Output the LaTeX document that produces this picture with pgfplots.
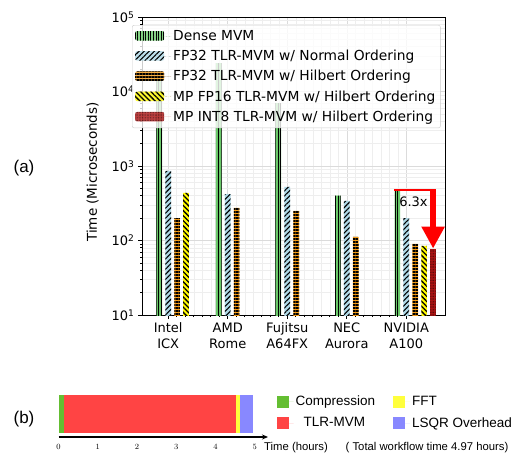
\documentclass[border=0pt]{standalone}
\usepackage{pgfplots}
\pgfplotsset{compat=1.18}
\usepackage{fontspec}
\setmainfont{DejaVu Sans}
\newfontfamily\arialf{Liberation Sans}
\usetikzlibrary{patterns.meta,arrows.meta}

\definecolor{cdense}{RGB}{105,200,105}
\definecolor{cnormal}{RGB}{173,216,230}
\definecolor{chilbert}{RGB}{245,155,20}
\definecolor{cfp16}{RGB}{255,250,0}
\definecolor{cint8}{RGB}{175,20,20}
\definecolor{bgreen}{RGB}{100,190,50}
\definecolor{bred}{RGB}{255,68,68}
\definecolor{byellow}{RGB}{255,255,60}
\definecolor{bblue}{RGB}{136,136,255}

\pgfplotsset{
  barleg/.style={legend image code/.code={\fill[##1] (0pt,-4.5pt) rectangle (29pt,5pt);\path (0pt,0pt) -- (36pt,0pt);}},
  sqleg/.style={legend image code/.code={\fill[##1] (0pt,-6pt) rectangle (12pt,6pt);\path (0pt,0pt) -- (17pt,0pt);}},
}

\begin{document}
\begin{tikzpicture}[x=1pt,y=1pt]
\path[use as bounding box] (0,0) rectangle (520,-455);

\begin{axis}[
  at={(142pt,-315pt)}, anchor=south west,
  width=303pt, height=298pt, scale only axis,
  ymode=log, ymin=10, ymax=100000,
  xmin=-0.44, xmax=4.65,
  ybar, bar width=0.095,
  xtick={0,1,2,3,4},
  xticklabels={{Intel\\ICX},{AMD\\Rome},{Fujitsu\\A64FX},{NEC\\Aurora},{NVIDIA\\A100}},
  xticklabel style={align=center, font=\fontsize{13}{16.5}\selectfont},
  minor x tick num=6,
  ytick={10,100,1000,10000,100000},
  yticklabels={10\textsuperscript{1},10\textsuperscript{2},10\textsuperscript{3},10\textsuperscript{4},10\textsuperscript{5}},
  minor ytick={20,30,40,50,60,70,80,90,200,300,400,500,600,700,800,900,2000,3000,4000,5000,6000,7000,8000,9000,20000,30000,40000,50000,60000,70000,80000,90000},
  yticklabel style={font=\fontsize{13}{15}\selectfont},
  tick align=outside, xtick pos=bottom, ytick pos=left,
  major tick length=4pt, minor tick length=2pt,
  tick style={black, line width=0.7pt},
  axis line style={black, line width=0.8pt},
  grid=both, major grid style={gray!28, line width=0.5pt}, minor grid style={gray!13, line width=0.4pt},
  ylabel={Time (Microseconds)},
  every axis y label/.style={at={(axis description cs:-0.163,0.48)}, rotate=90, anchor=center, font=\fontsize{13.5}{15}\selectfont},
  legend style={at={(axis description cs:-0.033,0.973)}, anchor=north west,
    font=\fontsize{13.8}{15}\selectfont, draw=gray!40, rounded corners=2pt,
    fill=white, fill opacity=0.8, text opacity=1, row sep=4.3pt, inner sep=3pt},
  legend cell align=left,
]
\addplot[barleg, bar shift=-0.15, draw=none, fill=cdense,
  postaction={pattern={Lines[angle=90,distance=2.6pt,line width=0.9pt]}}]
  coordinates {(0,15000) (1,24000) (2,7000) (3,400) (4,480)};
\addplot[barleg, bar shift=0, draw=none, fill=cnormal,
  postaction={pattern={Lines[angle=45,distance=3.6pt,line width=1.1pt]}}]
  coordinates {(0,860) (1,420) (2,525) (3,340) (4,200)};
\addplot[barleg, bar shift=0.15, draw=none, fill=chilbert,
  postaction={pattern={Lines[angle=0,distance=3pt,line width=1.1pt]}}]
  coordinates {(0,200) (1,275) (2,250) (3,112) (4,90)};
\addplot[barleg, bar shift=0.30, draw=none, fill=cfp16,
  postaction={pattern={Lines[angle=-45,distance=3.6pt,line width=1.3pt]}}]
  coordinates {(0,435) (4,85)};
\addplot[barleg, bar shift=0.45, draw=none, fill=cint8,
  postaction={pattern={Dots[radius=0.35pt,distance=1.6pt], pattern color=black!70!cint8}}]
  coordinates {(4,76)};
\legend{Dense MVM, FP32 TLR-MVM w/ Normal Ordering, FP32 TLR-MVM w/ Hilbert Ordering, MP FP16 TLR-MVM w/ Hilbert Ordering, MP INT8 TLR-MVM w/ Hilbert Ordering}
\draw[red, line width=2pt] (axis cs:3.8,480) -- (axis cs:4.49,480);
\draw[red, line width=6.5pt, -{Triangle[width=22pt,length=22pt]}] (axis cs:4.45,490) -- (axis cs:4.45,78);
\node[font=\fontsize{13}{15}\selectfont, inner sep=0.5pt] at (axis cs:4.12,330) {6.3x};
\end{axis}

\begin{axis}[
  at={(58.5pt,-437pt)}, anchor=south west,
  width=209.5pt, height=44pt, scale only axis,
  xmin=0, xmax=5.34, ymin=0, ymax=1,
  xbar stacked, bar width=0.86,
  axis x line=bottom, axis y line=none,
  x axis line style={-{Stealth[length=6pt,width=5pt]}, line width=1.6pt},
  xtick={0,1,2,3,4,5}, major tick length=0pt,
  xticklabel style={font=\arialf\fontsize{8}{9}\selectfont, yshift=-4pt},
  legend style={at={(axis description cs:1.04,0.98)}, anchor=north west,
    font=\arialf\fontsize{13.5}{16}\selectfont, draw=none, fill=none,
    row sep=6pt, column sep=0pt, inner sep=0pt,
    /tikz/every even column/.append style={column sep=16pt}},
  legend cell align=left, legend columns=2, transpose legend,
]
\addplot[sqleg, draw=none, fill=bgreen] coordinates {(0.15,0.52)};
\addplot[sqleg, draw=none, fill=bred] coordinates {(4.38,0.52)};
\addplot[sqleg, draw=none, fill=byellow] coordinates {(0.10,0.52)};
\addplot[sqleg, draw=none, fill=bblue] coordinates {(0.34,0.52)};
\legend{Compression, \hspace*{8pt}TLR-MVM, FFT, LSQR Overhead}
\end{axis}

\node[font=\arialf\fontsize{11.3}{13}\selectfont] at (296,-448) {Time (hours)};
\node[font=\arialf\fontsize{11.3}{13}\selectfont] at (427,-448) {( Total workflow time 4.97 hours)};
\node[font=\arialf\fontsize{17}{20}\selectfont] at (24,-168) {(a)};
\node[font=\arialf\fontsize{17}{20}\selectfont] at (24,-419) {(b)};
\end{tikzpicture}
\end{document}
